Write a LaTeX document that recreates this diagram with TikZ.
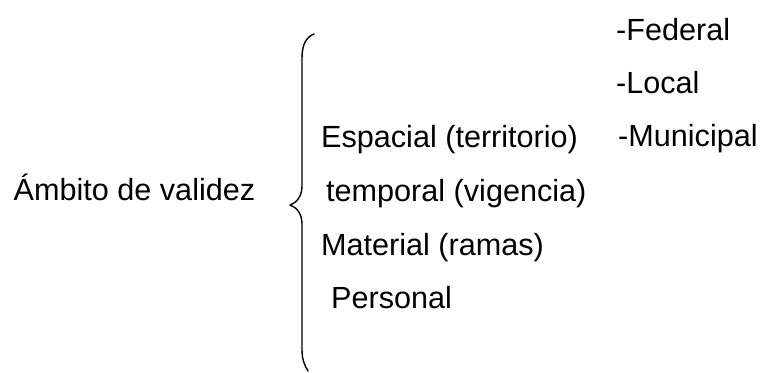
\documentclass[tikz,border=0pt]{standalone}
\usepackage{fontspec}
\setmainfont{Liberation Sans}
\begin{document}
\begin{tikzpicture}[x=1pt,y=1pt,
  lbl/.style={anchor=base west,inner sep=0pt,font=\fontsize{30.6}{36}\selectfont},
  bracestyle/.style={line width=1.4pt,line cap=round,line join=round}]
\useasboundingbox (0,0) rectangle (762,-372);
\node[lbl] (ambito) at (13.5,-200) {Ámbito de validez};
\node[lbl] (espacial) at (321,-147) {Espacial (territorio)};
\node[lbl] (temporal) at (326,-201) {temporal (vigencia)};
\node[lbl] (material) at (321,-255) {Material (ramas)};
\node[lbl] (personal) at (331,-308) {Personal};
\node[lbl] (federal) at (616,-40) {-Federal};
\node[lbl] (local) at (616,-93) {-Local};
\node[lbl] (municipal) at (618,-146) {-Municipal};
\draw[bracestyle] (314,-34) .. controls (306,-37) and (302,-45) .. (302,-58)
  -- (302,-186) .. controls (302,-197) and (296,-203) .. (290,-205)
  .. controls (296,-207) and (302,-213) .. (302,-224)
  -- (302,-350) .. controls (302,-360) and (305,-366) .. (308,-371);
\end{tikzpicture}
\end{document}
